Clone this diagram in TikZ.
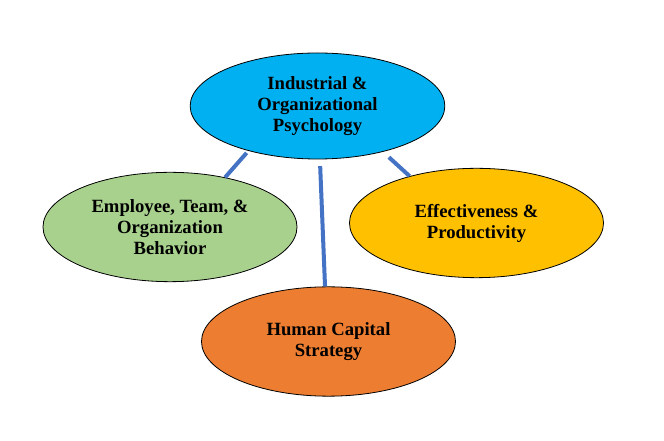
\documentclass[tikz,border=0pt]{standalone}
\usepackage{fontspec}
\setmainfont{Liberation Serif}
\usetikzlibrary{shapes.geometric}
\definecolor{topblue}{HTML}{00B0F0}
\definecolor{leftgreen}{HTML}{A9D18E}
\definecolor{rightyellow}{HTML}{FFC000}
\definecolor{bottomorange}{HTML}{ED7D31}
\definecolor{connblue}{HTML}{4472C4}
\tikzset{
  bubble/.style={ellipse, draw=black, line width=0.6pt, inner sep=0pt,
    minimum width=190.5pt, minimum height=82pt, align=center,
    font=\fontsize{14}{15.75}\selectfont\bfseries, text=black},
  conn/.style={draw=connblue, line width=3pt}
}
\begin{document}
\begin{tikzpicture}[x=0.75pt,y=-0.75pt]
\useasboundingbox[fill=white] (0,0) rectangle (664,441);
\node[bubble, fill=topblue, minimum height=79.5pt, minimum width=191pt] (top) at (317.5,106) {Industrial \&\\Organizational\\Psychology};
\node[bubble, fill=leftgreen] (left) at (170,227) {Employee, Team, \&\\Organization\\Behavior};
\node[bubble, fill=rightyellow] (right) at (476.5,223) {Effectiveness \&\\Productivity};
\node[bubble, fill=bottomorange] (bottom) at (328.5,341.5) {Human Capital\\Strategy};
\draw[conn, shorten <=2pt] (top.213.3) -- (left.42.4);
\draw[conn, shorten <=6pt] (top.-35) -- (right.145.4);
\draw[conn] ([xshift=2pt,yshift=-5pt]top.south) -- ([xshift=-2.6pt]bottom.north);
\end{tikzpicture}
\end{document}
